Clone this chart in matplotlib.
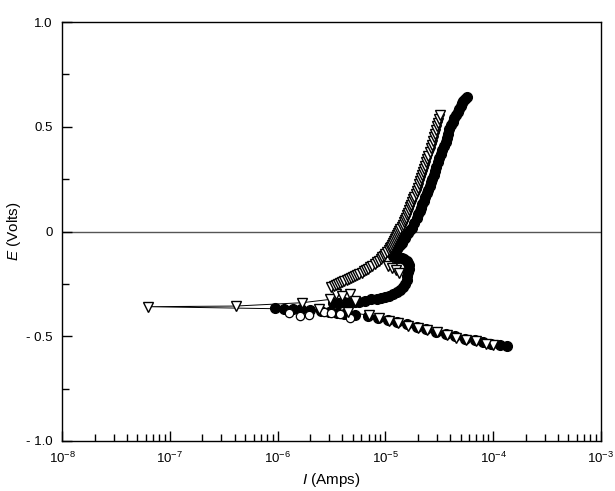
import matplotlib
matplotlib.use("Agg")
import matplotlib.pyplot as plt
from matplotlib.ticker import LogLocator, FixedLocator, FixedFormatter
import numpy as np

plt.rcParams['font.family'] = ['Liberation Sans', 'DejaVu Sans']
plt.rcParams['mathtext.fontset'] = 'custom'
plt.rcParams['mathtext.rm'] = 'Liberation Sans'
plt.rcParams['mathtext.it'] = 'Liberation Sans:italic'

# ---- data (log10 of current in A, potential in V) ----
# open down-triangle series (connected by thin line)
tri_logI = [-4.00, -4.07, -4.16, -4.25, -4.34, -4.43, -4.52, -4.61, -4.70, -4.79,
            -4.88, -4.97, -5.06, -5.15, -5.35, -5.62, -7.20, -6.39, -5.77, -5.51,
            -5.46,
            -5.50, -5.48, -5.46, -5.44, -5.42, -5.40, -5.38, -5.36, -5.34, -5.32,
            -5.30, -5.28, -5.26, -5.24, -5.22, -5.20, -5.18, -5.16, -5.14, -5.12,
            -5.10, -5.08, -5.06, -5.045, -5.03, -5.015, -5.00, -4.985, -4.97, -4.96,
            -4.95, -4.94, -4.93, -4.92, -4.91, -4.90, -4.89, -4.88, -4.87, -4.86,
            -4.85, -4.84, -4.83, -4.82, -4.81, -4.80, -4.79, -4.78, -4.77, -4.76,
            -4.75, -4.74, -4.73, -4.72, -4.71, -4.70, -4.69, -4.68, -4.67, -4.66,
            -4.65, -4.64, -4.63, -4.62, -4.61, -4.60, -4.59, -4.58, -4.57, -4.56,
            -4.55, -4.54, -4.53, -4.52, -4.51, -4.50, -4.49]
tri_E = [-0.540, -0.535, -0.525, -0.516, -0.507, -0.495, -0.482, -0.471, -0.460, -0.449,
         -0.438, -0.425, -0.413, -0.400, -0.385, -0.372, -0.359, -0.356, -0.340, -0.324,
         -0.300,
         -0.265, -0.260, -0.255, -0.251, -0.247, -0.243, -0.238, -0.233, -0.228, -0.223,
         -0.218, -0.213, -0.207, -0.202, -0.196, -0.190, -0.183, -0.177, -0.170, -0.163,
         -0.155, -0.148, -0.140, -0.132, -0.124, -0.116, -0.108, -0.099, -0.090, -0.081,
         -0.072, -0.063, -0.054, -0.045, -0.036, -0.027, -0.017, -0.008, 0.002, 0.012,
         0.022, 0.033, 0.044, 0.055, 0.066, 0.078, 0.090, 0.102, 0.115, 0.127,
         0.140, 0.153, 0.167, 0.181, 0.195, 0.210, 0.225, 0.240, 0.255, 0.270,
         0.285, 0.300, 0.315, 0.330, 0.345, 0.362, 0.380, 0.397, 0.415, 0.432,
         0.450, 0.467, 0.485, 0.502, 0.520, 0.537, 0.554]
# extra triangles in the loop / cluster (markers only)
tri2_logI = [-4.98, -4.94, -4.90, -4.87, -5.40, -5.33, -5.28]
tri2_E = [-0.165, -0.175, -0.185, -0.200, -0.310, -0.300, -0.330]

# filled circle series
dot_logI = [-3.87, -3.94, -4.02, -4.09, -4.17, -4.26, -4.35, -4.44, -4.53, -4.62,
            -4.71, -4.80, -4.89, -4.98, -5.07, -5.16, -5.28,
            -5.38, -5.45, -5.52, -5.60, -5.70, -5.78, -5.86, -5.94, -6.02,
            -5.49, -5.43, -5.38, -5.33, -5.28, -5.24, -5.19, -5.13, -5.08, -5.04,
            -5.00, -4.97, -4.93, -4.89, -4.86, -4.84, -4.82, -4.80, -4.795, -4.79,
            -4.785, -4.78, -4.79, -4.80, -4.83, -4.85, -4.88, -4.91, -4.93, -4.92,
            -4.91, -4.895, -4.88, -4.865, -4.85, -4.835, -4.82, -4.805, -4.79, -4.77,
            -4.75, -4.73, -4.71, -4.695, -4.68, -4.67, -4.66, -4.645, -4.63, -4.615,
            -4.60, -4.59, -4.58, -4.565, -4.55, -4.54, -4.53, -4.515, -4.50, -4.485,
            -4.47, -4.455, -4.44, -4.43, -4.42, -4.405, -4.39, -4.375, -4.36, -4.345,
            -4.33, -4.315, -4.30, -4.29, -4.28, -4.26, -4.24]
dot_E = [-0.548, -0.542, -0.535, -0.528, -0.520, -0.511, -0.500, -0.489, -0.478, -0.466,
         -0.455, -0.444, -0.433, -0.422, -0.412, -0.405, -0.398,
         -0.392, -0.390, -0.385, -0.380, -0.375, -0.372, -0.370, -0.368, -0.367,
         -0.343, -0.340, -0.338, -0.337, -0.336, -0.335, -0.330, -0.324, -0.320, -0.317,
         -0.312, -0.306, -0.298, -0.288, -0.277, -0.265, -0.250, -0.233, -0.214, -0.194,
         -0.178, -0.162, -0.150, -0.139, -0.132, -0.128, -0.126, -0.122, -0.115, -0.105,
         -0.095, -0.085, -0.075, -0.065, -0.055, -0.042, -0.030, -0.018, -0.005, 0.007,
         0.019, 0.042, 0.066, 0.082, 0.098, 0.113, 0.129, 0.147, 0.165, 0.182,
         0.200, 0.218, 0.235, 0.253, 0.271, 0.290, 0.310, 0.330, 0.350, 0.370,
         0.390, 0.409, 0.428, 0.448, 0.468, 0.488, 0.507, 0.524, 0.540, 0.555,
         0.570, 0.585, 0.600, 0.613, 0.625, 0.634, 0.641]

# open circle series
ocir_logI = [-5.89, -5.79, -5.71, -5.57, -5.50, -5.33, -5.42]
ocir_E = [-0.391, -0.403, -0.400, -0.383, -0.387, -0.414, -0.395]

xticks = [1e-8, 1e-7, 1e-6, 1e-5, 1e-4, 1e-3]
yticks = [-1.0, -0.5, 0.0, 0.5, 1.0]
ytick_labels = ['- 1.0', '- 0.5', '0', '0.5', '1.0']

fig = plt.figure(figsize=(6.15, 4.91), dpi=100)
ax = fig.add_axes([0.101, 0.102, 0.876, 0.853])

ax.axhline(0, color='#555555', lw=1.0, zorder=1)

tri_I = 10 ** np.array(tri_logI)
ax.plot(tri_I, tri_E, '-', color='black', lw=0.7, zorder=2)
ax.plot(10 ** np.array(dot_logI), dot_E, 'o', color='black', ms=7, ls='none', zorder=3)
ax.plot(10 ** np.array(ocir_logI), ocir_E, 'o', mfc='white', mec='black', mew=0.9,
        ms=6, ls='none', zorder=3)
ax.plot(tri_I, tri_E, 'v', mfc='white', mec='black', mew=1.0, ms=7.5, ls='none', zorder=4)
ax.plot(10 ** np.array(tri2_logI), tri2_E, 'v', mfc='white', mec='black', mew=1.0,
        ms=7.5, ls='none', zorder=4)

ax.set_xscale('log')
ax.set_xlim(1e-8, 1e-3)
ax.set_ylim(-1.0, 1.0)
ax.xaxis.set_major_locator(FixedLocator(xticks))
ax.xaxis.set_minor_locator(LogLocator(base=10, subs=np.arange(2, 10), numticks=20))
ax.yaxis.set_major_locator(FixedLocator(yticks))
ax.yaxis.set_major_formatter(FixedFormatter(ytick_labels))
ax.yaxis.set_minor_locator(FixedLocator([-0.75, -0.25, 0.25, 0.75]))

ax.tick_params(which='both', direction='in', top=False, right=False, labelsize=9.5,
               colors='black')
ax.tick_params(which='major', length=7, width=1)
ax.tick_params(which='minor', length=5, width=1)
ax.tick_params(axis='x', which='major', pad=7)
ax.tick_params(axis='y', which='major', pad=7)

for s in ax.spines.values():
    s.set_linewidth(1.0)

ax.set_xlabel(r'$\mathit{I}$ (Amps)', fontsize=11)
ax.set_ylabel(r'$\mathit{E}$ (Volts)', fontsize=11, labelpad=2)

fig.savefig('out.png', dpi=100)
